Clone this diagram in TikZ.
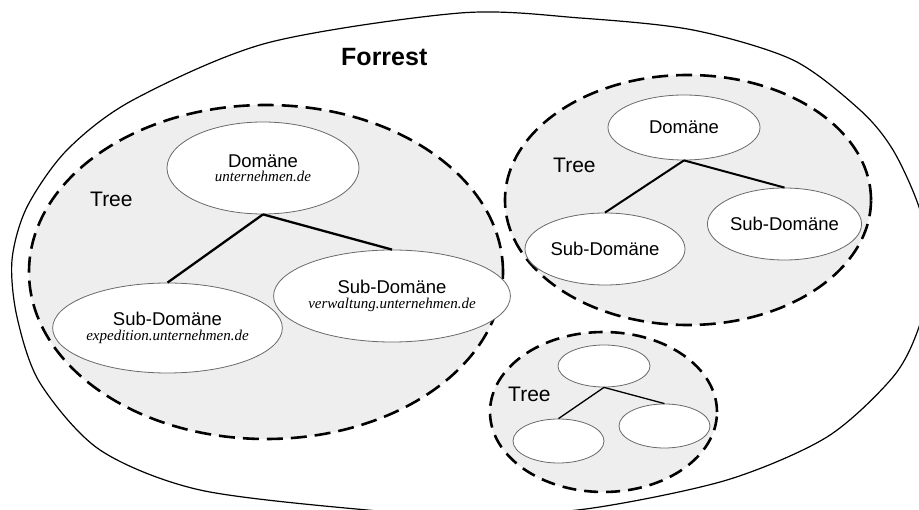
\documentclass[tikz,border=0pt]{standalone}
\usepackage{fontspec}
\setmainfont{Liberation Sans}
\newfontfamily\domfont{Liberation Serif}
\usetikzlibrary{shapes.geometric}
\definecolor{treegray}{RGB}{238,238,238}
\definecolor{ellgray}{RGB}{105,105,105}
\newcommand{\domname}[1]{{\domfont\itshape\fontsize{15}{14.5}\selectfont #1}}
\begin{document}
\begin{tikzpicture}[x=1pt,y=-1pt,
  treearea/.style={ellipse, draw, fill=treegray, line width=2.6pt, dash pattern=on 16pt off 8pt, inner sep=0pt},
  dom/.style={ellipse, draw=ellgray, fill=white, line width=0.8pt, inner sep=0pt, align=center, font=\fontsize{18.5}{14.5}\selectfont},
  treelabel/.style={anchor=base west, inner sep=0pt, font=\fontsize{21}{21}\selectfont},
  link/.style={line width=2.3pt},
  smalllink/.style={line width=1.3pt},
  outline/.style={line width=1.2pt}
]
\useasboundingbox (0,0) rectangle (919,510);
\fill[white] (0,0) rectangle (919,510);
\clip (0,0) rectangle (919,510);

% outer forest boundary
\draw[outline] plot[smooth cycle, tension=0.5] coordinates {
 (460,13) (580,18) (693,30) (793,60) (860,110) (893,150) (919,207) (932,267)
 (919,327) (893,377) (827,437) (727,480) (593,508) (480,516) (367,510)
 (200,490) (100,450) (40,383) (17,317) (12,260) (27,207) (67,150) (133,100) (267,43)};
\node[anchor=base west, inner sep=0pt, font=\bfseries\fontsize{25}{25}\selectfont] (forrest) at (341,66) {Forrest};

% tree areas
\node[treearea, minimum width=474pt, minimum height=334pt] (t1) at (266,272) {};
\node[treearea, minimum width=366pt, minimum height=250pt] (t2) at (688,200) {};
\node[treearea, minimum width=227pt, minimum height=160pt, dash pattern=on 14pt off 8pt] (t3) at (603.5,412) {};

\node[treelabel] (l1) at (90,207) {Tree};
\node[treelabel] (l2) at (553,173) {Tree};
\node[treelabel] (l3) at (508,402) {Tree};

% tree 1
\node[dom, minimum width=192pt, minimum height=92pt] (d1) at (263,168) {Domäne\\\domname{unternehmen.de}};
\node[dom, minimum width=191pt, minimum height=90pt] (s1) at (167.5,328) {Sub-Domäne\\\domname{expedition.unternehmen.de}};
\node[dom, minimum width=194pt, minimum height=92pt] (s2) at (392,296) {Sub-Domäne\\\domname{verwaltung.unternehmen.de}};
\draw[link] (d1.south) -- (s1.north);
\draw[link] (d1.south) -- (s2.north);

% tree 2
\node[dom, minimum width=152pt, minimum height=65pt] (d2) at (684,127.5) {Domäne};
\node[dom, minimum width=160pt, minimum height=72pt] (s3) at (605,249) {Sub-Domäne};
\node[dom, minimum width=151pt, minimum height=72pt] (s4) at (784.5,224) {Sub-Domäne};
\draw[link, line width=2pt] (d2.south) -- (s3.north);
\draw[link, line width=2pt] (d2.south) -- (s4.north);

% tree 3
\node[dom, minimum width=92pt, minimum height=42pt] (d3) at (604,366) {};
\node[dom, minimum width=91pt, minimum height=44pt] (s5) at (558.5,441) {};
\node[dom, minimum width=91pt, minimum height=44pt] (s6) at (664.5,426) {};
\draw[smalllink] (d3.south) -- (s5.north);
\draw[smalllink] (d3.south) -- (s6.north);
\end{tikzpicture}
\end{document}
